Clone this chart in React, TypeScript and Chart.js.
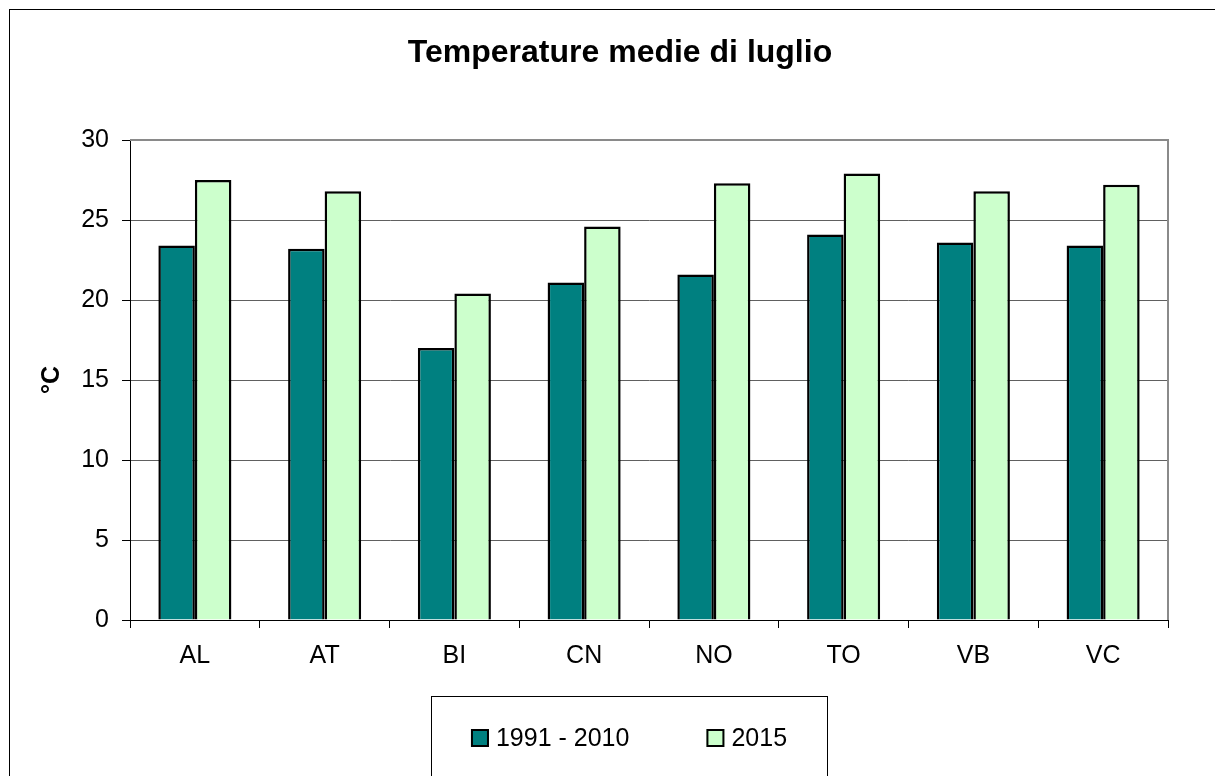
import React, { useEffect, useRef } from "react";
import { Chart, registerables } from "chart.js";

Chart.register(...registerables);

const categories = ["AL", "AT", "BI", "CN", "NO", "TO", "VB", "VC"];
const seriesNames = ["1991 - 2010", "2015"];
const values19912010 = [23.4, 23.2, 17.0, 21.1, 21.6, 24.1, 23.6, 23.4];
const values2015 = [27.5, 26.8, 20.4, 24.6, 27.3, 27.9, 26.8, 27.2];
const yTicks = [0, 5, 10, 15, 20, 25, 30];
const chartTitle = "Temperature medie di luglio";
const yTitle = "°C";

const FONT = "'Liberation Sans', Arial, sans-serif";

const frameAndLegend = {
  id: "frameAndLegend",
  afterDatasetsDraw(chart: any) {
    const { ctx, chartArea } = chart;
    ctx.save();
    ctx.strokeStyle = "#8a8a8a";
    ctx.lineWidth = 2;
    ctx.beginPath();
    ctx.moveTo(chartArea.left, chartArea.top);
    ctx.lineTo(chartArea.right, chartArea.top);
    ctx.lineTo(chartArea.right, chartArea.bottom);
    ctx.stroke();
    ctx.restore();
  },
  afterDraw(chart: any) {
    const { ctx } = chart;
    const cx = chart.width / 2 + 9;
    const boxW = 396;
    const boxTop = 686;
    ctx.save();
    ctx.strokeStyle = "#000";
    ctx.lineWidth = 1;
    ctx.strokeRect(Math.round(cx - boxW / 2) + 0.5, boxTop + 0.5, boxW, 300);

    ctx.font = `25px ${FONT}`;
    ctx.textBaseline = "middle";
    ctx.textAlign = "left";
    const sq = 18;
    const gap = 7;
    const spacing = 77;
    const ds = chart.data.datasets;
    const widths = ds.map((d: any) => ctx.measureText(d.label).width);
    let total = 0;
    widths.forEach((w: number, i: number) => {
      total += sq + gap + w + (i < widths.length - 1 ? spacing : 0);
    });
    let x = cx - total / 2;
    const y = 728;
    ds.forEach((d: any, i: number) => {
      ctx.fillStyle = d.backgroundColor;
      ctx.fillRect(x, y - sq / 2, sq, sq);
      ctx.strokeStyle = "#000";
      ctx.lineWidth = 2;
      ctx.strokeRect(x + 1, y - sq / 2 + 1, sq - 2, sq - 2);
      ctx.fillStyle = "#000";
      ctx.fillText(d.label, x + sq + gap, y + 1);
      x += sq + gap + widths[i] + spacing;
    });
    ctx.restore();
  },
};

export default function App() {
  const ref = useRef<HTMLCanvasElement | null>(null);

  useEffect(() => {
    if (!ref.current) return;
    const chart = new Chart(ref.current, {
      type: "bar",
      data: {
        labels: categories,
        datasets: [
          {
            label: seriesNames[0],
            data: values19912010,
            backgroundColor: "#008080",
            borderColor: "#000",
            borderWidth: 2.5,
          },
          {
            label: seriesNames[1],
            data: values2015,
            backgroundColor: "#CCFFCC",
            borderColor: "#000",
            borderWidth: 2.5,
          },
        ],
      },
      options: {
        responsive: false,
        animation: false,
        layout: { padding: { left: 0, right: 0, top: 0, bottom: 140 } },
        datasets: {
          bar: { categoryPercentage: 0.563, barPercentage: 1 },
        },
        plugins: {
          legend: { display: false },
          tooltip: { enabled: false },
          title: {
            display: true,
            text: chartTitle,
            color: "#000",
            font: { family: FONT, size: 32, weight: "bold", lineHeight: 1.2 },
            padding: { top: 24, bottom: 67.6 },
          },
        },
        scales: {
          x: {
            grid: {
              offset: true,
              drawOnChartArea: false,
              drawTicks: true,
              tickLength: 8,
              tickColor: "#000",
            },
            border: { color: "#000", width: 1 },
            ticks: {
              color: "#000",
              font: { family: FONT, size: 25 },
              padding: 13,
            },
            afterFit(scale: any) {
              scale.height = 50;
            },
          },
          y: {
            min: 0,
            max: 30,
            afterBuildTicks(scale: any) {
              scale.ticks = yTicks.map((v) => ({ value: v }));
            },
            grid: {
              color: "#606060",
              tickColor: "#000",
              tickLength: 8,
            },
            border: { color: "#000", width: 1 },
            ticks: {
              color: "#000",
              font: { family: FONT, size: 25 },
              padding: 13,
            },
            title: {
              display: true,
              text: yTitle,
              color: "#000",
              font: { family: FONT, size: 25, weight: "bold", lineHeight: 1.2 },
              padding: { top: 27, bottom: 0 },
            },
            afterFit(scale: any) {
              scale.width = 120;
            },
          },
          yRight: {
            position: "right",
            display: true,
            min: 0,
            max: 30,
            grid: { drawOnChartArea: false, drawTicks: false },
            border: { display: false },
            ticks: { display: false },
            afterFit(scale: any) {
              scale.width = 62;
            },
          },
        },
      },
      plugins: [frameAndLegend],
    });
    return () => chart.destroy();
  }, []);

  return (
    <div style={{ position: "relative", width: 1215, height: 768, overflow: "hidden", background: "#fff" }}>
      <div
        style={{
          position: "absolute",
          left: 1,
          top: 1,
          width: 1260,
          height: 820,
          border: "1px solid #000",
          background: "#fff",
        }}
      >
        <canvas ref={ref} width={1220} height={800} style={{ display: "block", width: 1220, height: 800 }} />
      </div>
    </div>
  );
}
